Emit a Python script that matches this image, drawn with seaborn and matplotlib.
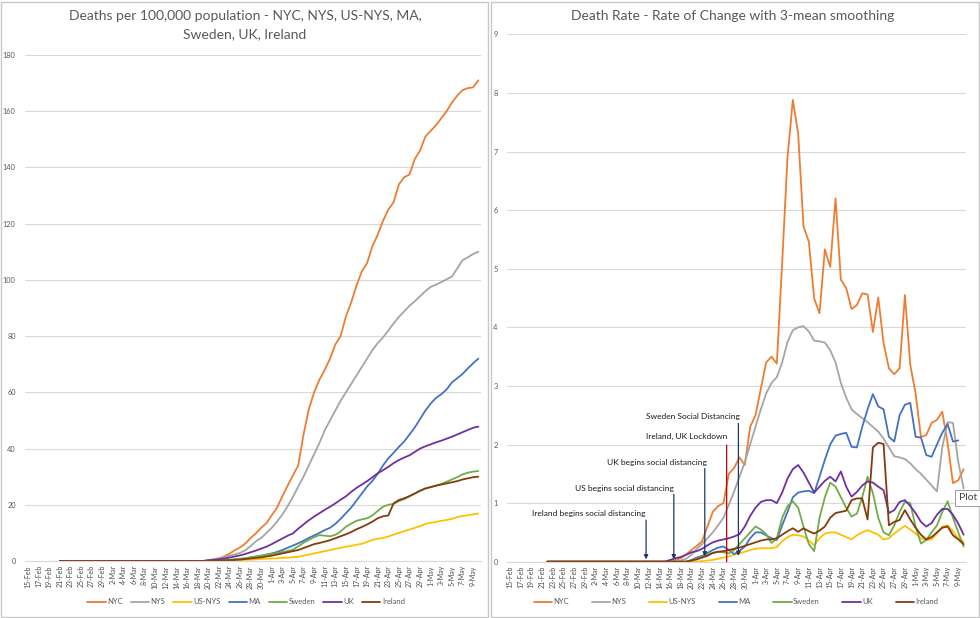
import numpy as np
import pandas as pd
import matplotlib
matplotlib.use("Agg")
import matplotlib.pyplot as plt
import seaborn as sns
from matplotlib.lines import Line2D
from matplotlib.patches import Rectangle

# ---------------- data ----------------
dates = pd.date_range("2020-02-15", "2020-05-10")
date_labels = [f"{d.day}-{d.strftime('%b')}" for d in dates]
N = len(dates)

series_names = ["NYC", "NYS", "US-NYS", "MA", "Sweden", "UK", "Ireland"]
series_colors = ["#ED7D31", "#A5A5A5", "#FFC000", "#4472C4", "#70AD47", "#7030A0", "#843C0C"]

# Left chart: cumulative deaths per 100k, values from index 34 to 10-May
nyc_cum = [0.2, 0.5, 0.9, 1.6, 2.6, 3.8, 4.8, 6.2, 8.2, 9.8,
           11.8, 13.5, 16.3, 19, 23, 26.8, 30.5, 34, 45, 54,
           60, 64.5, 68, 72, 77, 80, 87, 92, 98, 103,
           106, 112, 116, 121, 125, 127.6, 134, 136.5, 137.5, 143,
           146, 151, 153, 155, 157.5, 160, 163, 165.5, 167.5, 168.2,
           168.5, 171]
nys_cum = [0.3, 0.6, 1.0, 1.4, 1.9, 2.3, 2.9, 3.8, 5.3, 7,
           8.2, 10, 11.8, 14, 16.5, 19.5, 22.8, 26.5, 30, 34,
           38, 42, 46.5, 50, 53.5, 57, 60, 63, 66, 69,
           72, 75, 77.5, 79.5, 82, 84.5, 86.8, 88.8, 90.8, 92.4,
           94.2, 96, 97.5, 98.3, 99.2, 100.2, 101.2, 104, 107, 108,
           109.2, 110]
usnys_cum = [0, 0, 0.05, 0.1, 0.15, 0.2, 0.3, 0.4, 0.5, 0.6,
             0.7, 0.8, 0.9, 1.0, 1.1, 1.2, 1.35, 1.5, 1.9, 2.3,
             2.7, 3.1, 3.5, 3.9, 4.3, 4.7, 5.1, 5.4, 5.8, 6.1,
             6.8, 7.5, 7.9, 8.2, 8.7, 9.4, 10.0, 10.6, 11.2, 11.8,
             12.4, 13.2, 13.6, 13.9, 14.3, 14.6, 15.0, 15.6, 16.0, 16.3,
             16.6, 16.9]
ma_cum = [0, 0, 0.1, 0.2, 0.3, 0.5, 0.7, 0.9, 1.2, 1.5,
          1.9, 2.3, 2.7, 3.2, 3.9, 4.7, 5.5, 6.3, 7.2, 8.2,
          9.1, 10, 11, 11.8, 13.2, 15, 17, 19, 21.5, 24,
          26.5, 28.5, 31, 34, 36.5, 38.5, 40.6, 42.5, 45, 47.5,
          50.5, 53.5, 56, 58, 59.3, 61, 63.5, 65, 66.5, 68.5,
          70.3, 72]
sweden_cum = [0.05, 0.1, 0.2, 0.3, 0.4, 0.6, 0.8, 1.0, 1.3, 1.6,
              1.9, 2.2, 2.5, 2.8, 3.2, 3.6, 4.0, 5.2, 6.5, 7.5,
              8.5, 9.2, 9.0, 8.8, 9.3, 10.5, 12.2, 13.3, 14.3, 14.8,
              15.2, 16.2, 17.8, 19.3, 20, 20.3, 21.3, 22, 23, 24,
              25, 25.8, 26.3, 26.8, 27.4, 28.2, 29, 29.8, 30.8, 31.4,
              31.8, 32]
uk_cum = [0.25, 0.4, 0.6, 0.9, 1.2, 1.6, 2.0, 2.5, 3.1, 3.7,
          4.4, 5.1, 6, 7, 8, 9, 9.8, 11.5, 13, 14.5,
          15.8, 17, 18.2, 19.3, 20.5, 21.8, 23, 24.6, 26, 27.2,
          28.4, 29.8, 31.2, 32.3, 33.5, 34.8, 35.9, 36.8, 37.6, 38.8,
          40, 40.8, 41.5, 42.2, 42.8, 43.5, 44.2, 45, 45.8, 46.6,
          47.4, 47.8]
ireland_cum = [0.05, 0.1, 0.15, 0.2, 0.3, 0.4, 0.5, 0.7, 0.9, 1.1,
               1.3, 1.6, 1.9, 2.3, 2.7, 3.1, 3.5, 3.9, 4.6, 5.3,
               6.0, 6.4, 6.9, 7.4, 8.1, 8.8, 9.5, 10.3, 11.3, 12.1,
               13.0, 14.0, 15.2, 15.9, 16.2, 20.5, 21.7, 22.3, 23.1, 24,
               25, 25.8, 26.3, 26.8, 27.2, 27.6, 28, 28.4, 29, 29.4,
               29.8, 30]

# Right chart: smoothed daily rate, values from index 30 to 10-May
nyc_rate = [0, 0.03, 0.06, 0.12, 0.2, 0.27, 0.35, 0.6, 0.85, 0.95,
            1.0, 1.5, 1.6, 1.78, 1.65, 2.3, 2.5, 2.95, 3.4, 3.5,
            3.38, 5.1, 6.9, 7.88, 7.3, 5.72, 5.46, 4.49, 4.24, 5.33,
            5.03, 6.2, 4.81, 4.67, 4.31, 4.38, 4.58, 4.56, 3.92, 4.51,
            3.73, 3.3, 3.2, 3.3, 4.55, 3.36, 2.87, 2.13, 2.16, 2.37,
            2.42, 2.56, 2.02, 1.34, 1.39, 1.58]
nys_rate = [0, 0, 0.02, 0.05, 0.12, 0.22, 0.3, 0.4, 0.5, 0.62,
            0.75, 0.97, 1.2, 1.45, 1.7, 2.0, 2.3, 2.6, 2.87, 3.05,
            3.15, 3.4, 3.75, 3.95, 4.0, 4.02, 3.93, 3.77, 3.76, 3.74,
            3.61, 3.4, 3.05, 2.8, 2.6, 2.52, 2.45, 2.38, 2.3, 2.22,
            2.1, 1.95, 1.8, 1.78, 1.75, 1.68, 1.58, 1.5, 1.4, 1.3,
            1.2, 1.95, 2.38, 2.37, 1.7, 1.25]
usnys_rate = [0, 0, 0, 0, 0, 0, 0.01, 0.02, 0.03, 0.05,
              0.07, 0.09, 0.12, 0.14, 0.17, 0.2, 0.22, 0.23, 0.23, 0.23,
              0.25, 0.35, 0.42, 0.46, 0.45, 0.43, 0.36, 0.28, 0.4, 0.48,
              0.5, 0.5, 0.46, 0.42, 0.38, 0.45, 0.5, 0.54, 0.5, 0.46,
              0.38, 0.4, 0.48, 0.55, 0.61, 0.55, 0.48, 0.4, 0.37, 0.38,
              0.48, 0.6, 0.62, 0.52, 0.4, 0.34]
ma_rate = [0, 0, 0, 0, 0.03, 0.07, 0.1, 0.15, 0.2, 0.24,
           0.26, 0.2, 0.13, 0.18, 0.26, 0.4, 0.5, 0.5, 0.45, 0.4,
           0.37, 0.62, 0.85, 1.1, 1.18, 1.2, 1.21, 1.17, 1.45, 1.74,
           2.0, 2.15, 2.18, 2.2, 1.96, 1.95, 2.3, 2.6, 2.86, 2.65,
           2.6, 2.13, 2.05, 2.5, 2.68, 2.71, 2.13, 2.12, 1.82, 1.79,
           2.0, 2.2, 2.35, 2.05, 2.07, None]
sweden_rate = [0, 0, 0, 0, 0.02, 0.05, 0.08, 0.12, 0.15, 0.17,
               0.16, 0.14, 0.2, 0.3, 0.4, 0.5, 0.6, 0.55, 0.47, 0.32,
               0.4, 0.75, 0.95, 1.03, 0.92, 0.6, 0.3, 0.18, 0.75, 1.1,
               1.35, 1.28, 1.1, 0.92, 0.77, 0.82, 1.1, 1.45, 1.17, 0.75,
               0.5, 0.45, 0.62, 0.85, 1.02, 1.0, 0.6, 0.31, 0.37, 0.5,
               0.62, 0.85, 1.03, 0.75, 0.5, 0.26]
uk_rate = [0.03, 0.06, 0.08, 0.12, 0.16, 0.18, 0.22, 0.28, 0.33, 0.36,
           0.38, 0.4, 0.43, 0.47, 0.6, 0.78, 0.92, 1.02, 1.05, 1.05,
           1.0, 1.18, 1.42, 1.58, 1.65, 1.52, 1.35, 1.18, 1.28, 1.38,
           1.45, 1.37, 1.54, 1.28, 1.11, 1.19, 1.3, 1.37, 1.35, 1.28,
           1.22, 0.83, 0.88, 1.02, 1.05, 0.95, 0.83, 0.68, 0.6, 0.66,
           0.8, 0.9, 0.9, 0.8, 0.65, 0.46]
ireland_rate = [0, 0, 0, 0, 0.02, 0.04, 0.07, 0.1, 0.15, 0.17,
                0.18, 0.2, 0.22, 0.24, 0.27, 0.3, 0.33, 0.36, 0.38, 0.38,
                0.4, 0.46, 0.52, 0.57, 0.51, 0.57, 0.52, 0.48, 0.53, 0.6,
                0.75, 0.83, 0.85, 0.87, 1.05, 1.08, 1.08, 0.72, 1.95, 2.03,
                2.01, 0.62, 0.68, 0.71, 0.88, 0.72, 0.58, 0.46, 0.38, 0.42,
                0.5, 0.58, 0.6, 0.45, 0.38, 0.3]


def full(tail, first, start):
    vals = [np.nan] * start + [0.0] * (first - start) + \
           [np.nan if v is None else v for v in tail]
    assert len(vals) == N, len(vals)
    return vals


left_tails = [nyc_cum, nys_cum, usnys_cum, ma_cum, sweden_cum, uk_cum, ireland_cum]
right_tails = [nyc_rate, nys_rate, usnys_rate, ma_rate, sweden_rate, uk_rate, ireland_rate]


def long_frame(tails, first, start):
    rows = []
    for name, tail in zip(series_names, tails):
        vals = full(tail, first, start)
        for i, v in enumerate(vals):
            if not np.isnan(v):
                rows.append((i, name, v))
    return pd.DataFrame(rows, columns=["day", "series", "value"])


dfL = long_frame(left_tails, 34, 6)
dfR = long_frame(right_tails, 30, 7)

# ---------------- style ----------------
sns.set_theme(style="white")
plt.rcParams["font.family"] = ["Lato", "DejaVu Sans"]
TXT = "#595959"
GRID = "#D9D9D9"
palette = dict(zip(series_names, series_colors))

fig = plt.figure(figsize=(9.8, 6.18), dpi=100)
fig.patch.set_facecolor("white")

W, H = 980.0, 618.0
axL = fig.add_axes([25.4 / W, 57 / H, (481 - 25.4) / W, 506 / H])
axR = fig.add_axes([507.3 / W, 56.3 / H, (966.3 - 507.3) / W, 527.4 / H])

for ax, df, ymax, ystep in [(axL, dfL, 180, 20), (axR, dfR, 9, 1)]:
    sns.lineplot(data=df, x="day", y="value", hue="series", hue_order=series_names,
                 palette=palette, estimator=None, linewidth=1.3, ax=ax, legend=False)
    ax.set_xlim(-0.5, N - 0.5)
    ax.set_ylim(0, ymax)
    ax.set_yticks(np.arange(0, ymax + ystep / 2, ystep))
    ax.set_yticklabels([f"{int(v)}" for v in np.arange(0, ymax + ystep / 2, ystep)])
    ticks = list(range(0, N - 1, 2))
    ax.set_xticks(ticks)
    ax.set_xticklabels([date_labels[t] for t in ticks], rotation=90)
    ax.tick_params(axis="x", labelsize=5.0, colors="#4D4D4D", length=0, pad=3)
    ax.tick_params(axis="y", labelsize=5.3, colors=TXT, length=0, pad=7)
    ax.yaxis.grid(True, color=GRID, linewidth=0.8)
    ax.xaxis.grid(False)
    ax.set_axisbelow(True)
    for s in ["top", "right", "left"]:
        ax.spines[s].set_visible(False)
    ax.spines["bottom"].set_color(GRID)
    ax.spines["bottom"].set_linewidth(0.8)
    ax.set_xlabel("")
    ax.set_ylabel("")
    ax.set_facecolor("none")

# titles
fig.text(245 / W, 1 - 16 / H, "Deaths per 100,000 population - NYC, NYS, US-NYS, MA,",
         ha="center", va="center", fontsize=10, color=TXT)
fig.text(245 / W, 1 - 34 / H, "Sweden, UK, Ireland",
         ha="center", va="center", fontsize=10, color=TXT)
fig.text(733 / W, 1 - 16 / H, "Death Rate - Rate of Change with 3-mean smoothing",
         ha="center", va="center", fontsize=10, color=TXT)

# legends
handles = [Line2D([], [], color=c, lw=1.3) for c in series_colors]
legL = fig.legend(handles, series_names, loc="center", bbox_to_anchor=(246 / W, 1 - 602 / H),
                  ncol=7, frameon=False, fontsize=5.5, handlelength=2.4,
                  handletextpad=0.2, columnspacing=1.05)
legR = fig.legend(handles, series_names, loc="center", bbox_to_anchor=(736 / W, 1 - 602 / H),
                  ncol=7, frameon=False, fontsize=5.5, handlelength=2.4,
                  handletextpad=0.2, columnspacing=2.95)
for leg in (legL, legR):
    for t in leg.get_texts():
        t.set_color(TXT)

# annotations on the right chart
NAVY = "#1F3864"
arrow_kw = dict(arrowstyle="-|>", color=NAVY, lw=0.9, mutation_scale=6, shrinkA=0, shrinkB=0)
notes = [
    ("Ireland begins social distancing", 25.5, 0.71, 0.04, 14.8, 0.83),
    ("US begins social distancing", 30.7, 1.15, 0.04, 21.5, 1.25),
    ("UK begins social distancing", 36.5, 1.59, 0.09, 27.5, 1.70),
    ("Sweden Social Distancing", 42.8, 2.36, 0.10, 34.2, 2.47),
]
for label, x, tail, tip, tx, ty in notes:
    axR.annotate("", xy=(x, tip), xytext=(x, tail), arrowprops=arrow_kw, zorder=5)
    axR.text(tx, ty, label, ha="center", va="center", fontsize=6, color="#1A1A1A")
axR.annotate("", xy=(40.6, 0.0), xytext=(40.6, 1.99),
             arrowprops=dict(arrowstyle="-", color="#C00000", lw=0.9, shrinkA=0, shrinkB=0), zorder=5)
axR.text(33.1, 2.13, "Ireland, UK Lockdown", ha="center", va="center", fontsize=6, color="#1A1A1A")

# excel tooltip
fig.text(959 / W, 1 - 498 / H, "Plot", ha="left", va="center", fontsize=7.5, color="#404040",
         bbox=dict(boxstyle="square,pad=0.35", fc="white", ec="#8C8C8C", lw=0.6))

# panel borders
fig.add_artist(Rectangle((0.5 / W, 1.5 / H), 487.5 / W, 615 / H, transform=fig.transFigure,
                         fill=False, ec="#C8C8C8", lw=1))
fig.add_artist(Rectangle((490.5 / W, 1.5 / H), 488 / W, 615 / H, transform=fig.transFigure,
                         fill=False, ec="#C8C8C8", lw=1))

fig.savefig("out.png", dpi=100, facecolor="white")
